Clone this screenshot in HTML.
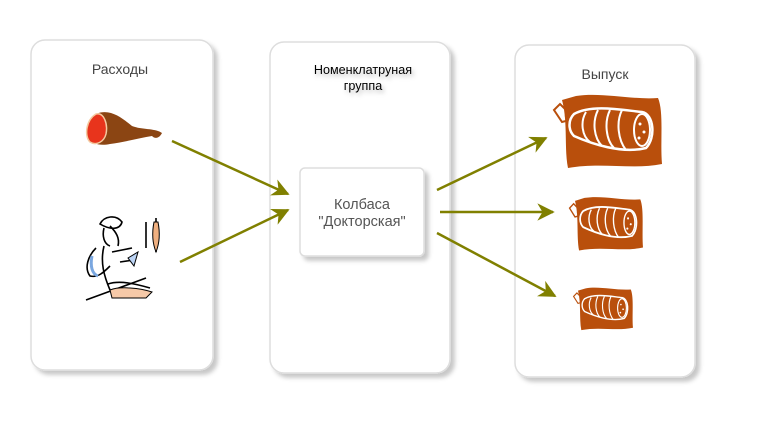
<!DOCTYPE html>
<html><head><meta charset="utf-8"><style>
html,body{margin:0;padding:0;background:#fff;}
svg{display:block;font-family:"Liberation Sans",sans-serif;}
</style></head><body>
<svg width="766" height="439" viewBox="0 0 766 439" xmlns="http://www.w3.org/2000/svg">
<defs>
<filter id="sh" x="-10%" y="-10%" width="130%" height="130%"><feDropShadow dx="4" dy="4" stdDeviation="2" flood-color="#000" flood-opacity="0.22"/></filter>
<filter id="ts" x="-10%" y="-30%" width="130%" height="180%"><feDropShadow dx="2" dy="3" stdDeviation="2" flood-color="#000" flood-opacity="0.25"/></filter>
<marker id="ah" viewBox="0 0 10 10" refX="9" refY="5" markerWidth="7" markerHeight="7" orient="auto" markerUnits="strokeWidth"><path d="M0,0 L10,5 L0,10 L3,5 z" fill="#808000"/></marker>
<g id="saus">
<path d="M14,4 C40,0 70,8 96,6 C102,20 98,50 100,72 C70,78 40,70 6,76 C2,56 6,30 0,8 Z" fill="#b94f0c"/>
<path d="M-8,18 l6,-6 l4,4 l5,-4 l3,6 l-6,6 l4,4 l-8,2 z" fill="none" stroke="#b94f0c" stroke-width="2"/>
<path d="M12,22 C30,12 60,18 80,20 C92,22 94,46 84,56 C60,62 30,52 12,44 C6,38 6,28 12,22 Z" fill="none" stroke="#fff" stroke-width="2.5"/>
<path d="M24,20 C18,30 20,44 28,50 M36,18 C30,30 32,46 40,54 M48,18 C42,30 44,48 52,56 M60,18 C54,30 56,48 64,58" fill="none" stroke="#fff" stroke-width="2"/>
<ellipse cx="80" cy="38" rx="8" ry="16" fill="none" stroke="#fff" stroke-width="2"/>
<circle cx="78" cy="32" r="1.5" fill="#fff"/><circle cx="82" cy="40" r="1.5" fill="#fff"/><circle cx="77" cy="46" r="1.5" fill="#fff"/>
</g>
</defs>

<rect x="31" y="40" width="182" height="330" rx="14" fill="#fff" stroke="#ddd" stroke-width="1.5" filter="url(#sh)"/>
<rect x="270" y="42" width="180" height="331" rx="14" fill="#fff" stroke="#ddd" stroke-width="1.5" filter="url(#sh)"/>
<rect x="515" y="45" width="180" height="332" rx="14" fill="#fff" stroke="#ddd" stroke-width="1.5" filter="url(#sh)"/>
<rect x="300" y="168" width="124" height="88" rx="5" fill="#fff" stroke="#ddd" stroke-width="1.5" filter="url(#sh)"/>

<text x="120" y="74" text-anchor="middle" font-size="14" fill="#444">Расходы</text>
<g filter="url(#ts)"><text x="363" y="74" text-anchor="middle" font-size="12.6" fill="#000">Номенклатруная</text>
<text x="363" y="90" text-anchor="middle" font-size="12.6" fill="#000">группа</text></g>
<text x="605" y="79" text-anchor="middle" font-size="14" fill="#444">Выпуск</text>
<text x="362" y="209" text-anchor="middle" font-size="14.5" fill="#555">Колбаса</text>
<text x="362" y="226" text-anchor="middle" font-size="14.5" fill="#555">"Докторская"</text>

<!-- ham -->
<path d="M96,114 C110,108 122,118 132,126 C142,130 155,128 162,133 C160,137 156,140 152,136 C140,138 125,142 110,144 C100,146 92,144 88,138 C84,130 88,118 96,114 Z" fill="#8b4513"/>
<path d="M96,114 C104,112 108,124 106,134 C104,142 96,146 90,142 C84,136 86,120 96,114 Z" fill="#e8341c" stroke="#f4c9a0" stroke-width="1.5"/>

<!-- butcher -->
<g fill="none" stroke="#000" stroke-width="1.6">
<path d="M100,224 C104,216 116,214 122,222 C120,230 110,230 100,224 Z" fill="#fff"/>
<path d="M104,228 C102,236 104,244 110,246"/>
<path d="M110,226 C116,232 120,238 118,246"/>
<path d="M96,248 C88,256 84,268 90,276 C98,278 104,272 110,266"/>
<path d="M104,246 C100,262 104,276 110,290"/>
<path d="M112,252 L132,248 M120,262 L134,260"/>
<path d="M86,300 L146,278"/>
<path d="M108,284 C120,280 136,284 150,288"/>
<path d="M146,222 L146,248 M156,218 L156,252"/>
</g>
<path d="M92,256 C90,266 92,274 98,276" stroke="#7aa7e0" stroke-width="3" fill="none"/>
<path d="M128,258 l10,-6 l-4,14 z" fill="#bcd4f5" stroke="#000" stroke-width="1"/>
<path d="M110,290 C120,286 140,288 152,292 L146,298 L112,298 Z" fill="#f6c9a8" stroke="#000" stroke-width="1"/>
<path d="M154,222 C152,232 152,242 156,252 C160,242 160,232 158,222 Z" fill="#f0b080" stroke="#000" stroke-width="1"/>

<!-- arrows -->
<g stroke="#808000" stroke-width="2.5" fill="none" marker-end="url(#ah)">
<line x1="172" y1="141" x2="288" y2="194"/>
<line x1="180" y1="262" x2="288" y2="210"/>
<line x1="437" y1="190" x2="546" y2="138"/>
<line x1="440" y1="212" x2="553" y2="212"/>
<line x1="437" y1="233" x2="555" y2="296"/>
</g>

<use href="#saus" transform="translate(562,92)"/>
<use href="#saus" transform="translate(575,195) scale(0.68,0.73)"/>
<use href="#saus" transform="translate(578,286) scale(0.55,0.58)"/>
</svg>
</body></html>
